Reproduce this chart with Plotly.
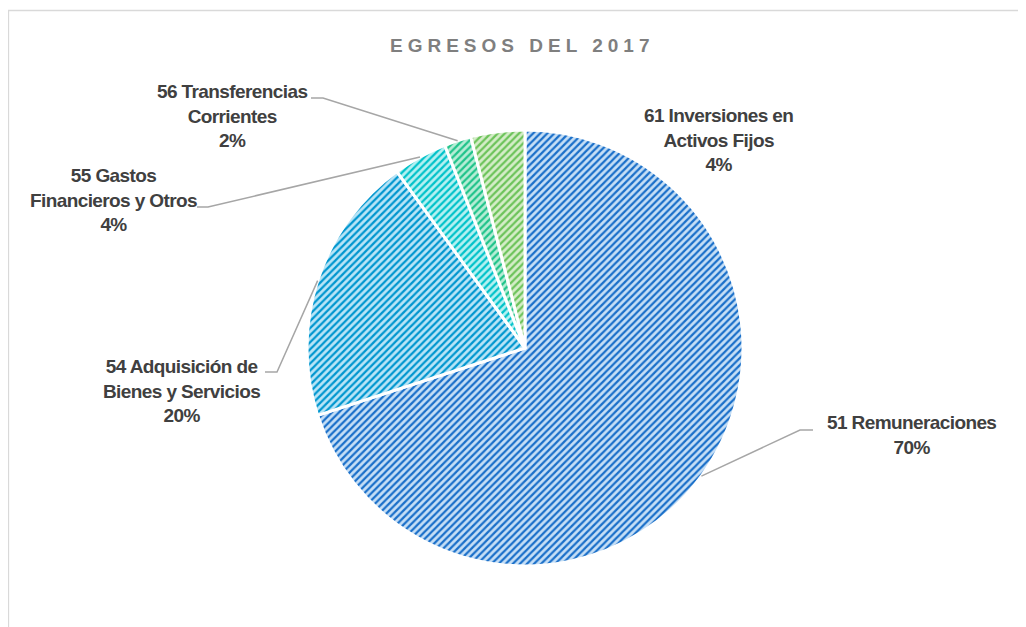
import math
import plotly.graph_objects as go

# ---- data ----
categories = ["51 Remuneraciones", "54 Adquisición de Bienes y Servicios",
              "55 Gastos Financieros y Otros", "56 Transferencias Corrientes",
              "61 Inversiones en Activos Fijos"]
label_lines = [["51 Remuneraciones"],
               ["54 Adquisición de", "Bienes y Servicios"],
               ["55 Gastos", "Financieros y Otros"],
               ["56 Transferencias", "Corrientes"],
               ["61 Inversiones en", "Activos Fijos"]]
values = [70, 20, 4, 2, 4]
title_text = "EGRESOS DEL 2017"

# ---- styles / layout ----
W, H = 1026, 627
OFF = 8  # page body margin
fg_colors = ["#1A6FC9", "#0096CF", "#00C2C9", "#1FC38A", "#6CC35A"]
bg_colors = ["#C6DFF6", "#B9E5F7", "#B5F1F2", "#B7EDD6", "#D5EDC8"]
CX, CY, R = 525, 348, 218
# label block centers (px) and leader elbow points (px)
label_pos = [(911, 435), (181, 391), (113, 200), (232, 116), (718, 140)]
leader_pts = [[(813, 430), (800, 430)],
              [(265, 372), (277, 372)],
              [(197, 207), (208, 207)],
              [(311, 98), (323, 98)],
              None]


def px(x):
    return (x - OFF) / W


def py(y):
    return 1 - (y - OFF) / H


fig = go.Figure()
fig.add_trace(go.Pie(
    labels=categories, values=values, sort=False, direction="clockwise",
    rotation=0, textinfo="none", hoverinfo="label+percent",
    domain=dict(x=[px(CX - R), px(CX + R)], y=[py(CY + R), py(CY - R)]),
    marker=dict(colors=bg_colors,
                line=dict(color="white", width=3),
                pattern=dict(shape="/", fgcolor=fg_colors, bgcolor=bg_colors,
                             size=5, solidity=0.45, fillmode="replace")),
    showlegend=False,
))

total = sum(values)
shapes = []
annotations = []
cum = 0
for i, v in enumerate(values):
    theta = math.radians(360 * (cum + v / 2) / total)
    cum += v
    ex, ey = CX + R * math.sin(theta), CY - R * math.cos(theta)
    pct = round(100 * v / total)
    text = "<br>".join(label_lines[i] + [f"{pct}%"])
    text = f'<span style="letter-spacing:-0.6px">{text}</span>'
    lx, ly = label_pos[i]
    annotations.append(dict(
        x=px(lx), y=py(ly), xref="paper", yref="paper", text=text,
        showarrow=False, align="center", xanchor="center", yanchor="middle",
        font=dict(family="Liberation Sans Narrow, Arial Narrow, Liberation Sans, Arial",
                  size=19, color="#404040", weight="bold")))
    if leader_pts[i]:
        pts = leader_pts[i] + [(ex, ey)]
        path = "M " + " L ".join(f"{px(x):.5f},{py(y):.5f}" for x, y in pts)
        shapes.append(dict(type="path", path=path, xref="paper", yref="paper",
                           line=dict(color="#A6A6A6", width=1.5)))

# chart border
shapes.append(dict(type="rect", xref="paper", yref="paper",
                   x0=px(8.5), x1=1.05, y0=-0.05, y1=py(10.5),
                   line=dict(color="#D9D9D9", width=1.3), fillcolor="rgba(0,0,0,0)",
                   layer="below"))

annotations.append(dict(
    x=px(522), y=py(46), xref="paper", yref="paper",
    text=f'<span style="letter-spacing:5px">{title_text}</span>',
    showarrow=False, xanchor="center", yanchor="middle",
    font=dict(family="Liberation Sans, Arial", size=19, color="#7F7F7F", weight="bold")))

fig.update_layout(
    width=W, height=H, margin=dict(l=0, r=0, t=0, b=0),
    paper_bgcolor="white", plot_bgcolor="white",
    shapes=shapes, annotations=annotations,
)
fig.write_html("out.html")
